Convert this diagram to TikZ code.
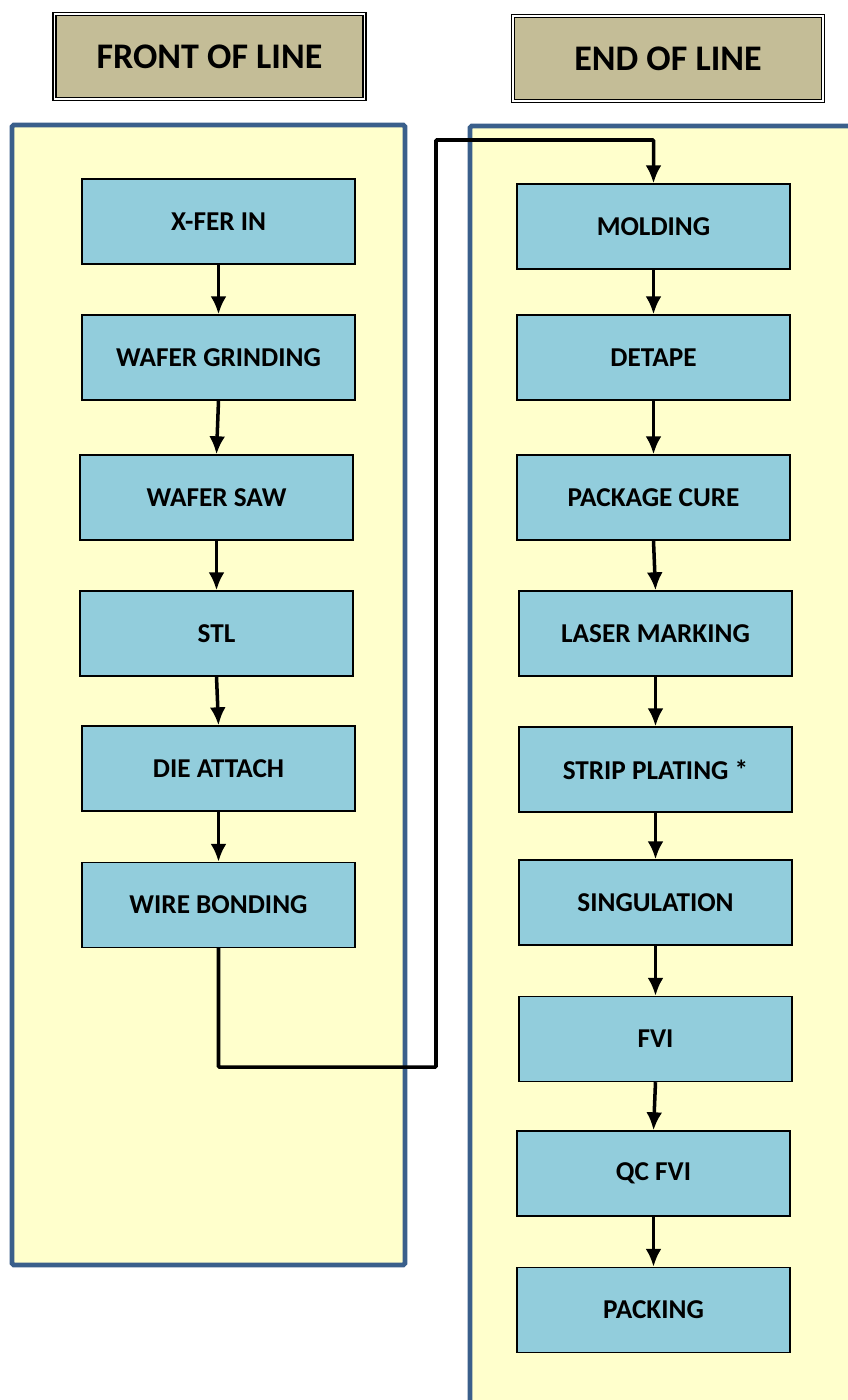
\documentclass[tikz,border=0pt]{standalone}
\usepackage{fontspec}
\setmainfont{Carlito}
\definecolor{panelfill}{HTML}{FFFFCC}
\definecolor{panelline}{HTML}{3A5F8B}
\definecolor{headfill}{HTML}{C4BD97}
\definecolor{stepfill}{HTML}{92CDDC}
\tikzset{
  panel/.style={draw=panelline,line width=2.8pt,fill=panelfill,rounded corners=1pt},
  header/.style={draw=black,double=white,double distance=0.8pt,line width=0.9pt,fill=headfill,
    minimum width=6.2cm,minimum height=1.7cm,font=\fontsize{20.5}{24}\selectfont\bfseries},
  stepbox/.style={draw=black,line width=0.8pt,fill=stepfill,minimum width=5.46cm,minimum height=1.7cm,
    font=\fontsize{15.5}{18}\selectfont\bfseries},
  flow/.style={line width=2pt,-{Latex[length=3.6mm,width=3.2mm]}}
}
\usetikzlibrary{arrows.meta}
\begin{document}
\begin{tikzpicture}[x=0.02cm,y=-0.02cm]
\clip (0,0) rectangle (848,1400);
\fill[white] (0,0) rectangle (848,1400);
%HEADERS
\node[header] (hfront) at (209.5,56.5) {FRONT OF LINE};
\node[header] (hend) at (668,58.5) {END OF LINE};
%PANELS
\draw[panel] (12,125) rectangle (405,1265);
\draw[panel] (470,126) rectangle (880,1440);
%FRONT
\node[stepbox] (xfer) at (218.5,221.5) {X-FER IN};
\node[stepbox] (grind) at (218.5,357.5) {WAFER GRINDING};
\node[stepbox] (saw) at (216.5,497.5) {WAFER SAW};
\node[stepbox] (stl) at (216.5,633.5) {STL};
\node[stepbox] (attach) at (218.5,768.5) {DIE ATTACH};
\node[stepbox] (bond) at (218.5,905) {WIRE BONDING};
\draw[flow] (xfer.south) -- (grind.north);
\draw[flow] (grind.south) -- (saw.north);
\draw[flow] (saw.south) -- (stl.north);
\draw[flow] (stl.south) -- (attach.north);
\draw[flow] (attach.south) -- (bond.north);
%END
\node[stepbox] (mold) at (653.5,226.5) {MOLDING};
\node[stepbox] (detape) at (653.5,357.5) {DETAPE};
\node[stepbox] (cure) at (653.5,497.5) {PACKAGE CURE};
\node[stepbox] (laser) at (655.5,633.5) {LASER MARKING};
\node[stepbox] (plate) at (655.5,769.5) {STRIP PLATING *};
\node[stepbox] (singul) at (655.5,902.5) {SINGULATION};
\node[stepbox] (fvi) at (655.5,1039) {FVI};
\node[stepbox] (qcfvi) at (653.5,1173.5) {QC FVI};
\node[stepbox] (pack) at (653.5,1310) {PACKING};
\draw[flow] (mold.south) -- (detape.north);
\draw[flow] (detape.south) -- (cure.north);
\draw[flow] (cure.south) -- (laser.north);
\draw[flow] (laser.south) -- (plate.north);
\draw[flow] (plate.south) -- (singul.north);
\draw[flow] (singul.south) -- (fvi.north);
\draw[flow] (fvi.south) -- (qcfvi.north);
\draw[flow] (qcfvi.south) -- (pack.north);
%LINK
\coordinate (low) at (436,1067);
\coordinate (high) at (436,140);
\draw[flow,rounded corners=0.5pt] (bond.south) |- (low) -- (high) -| (mold.north);
\end{tikzpicture}
\end{document}
